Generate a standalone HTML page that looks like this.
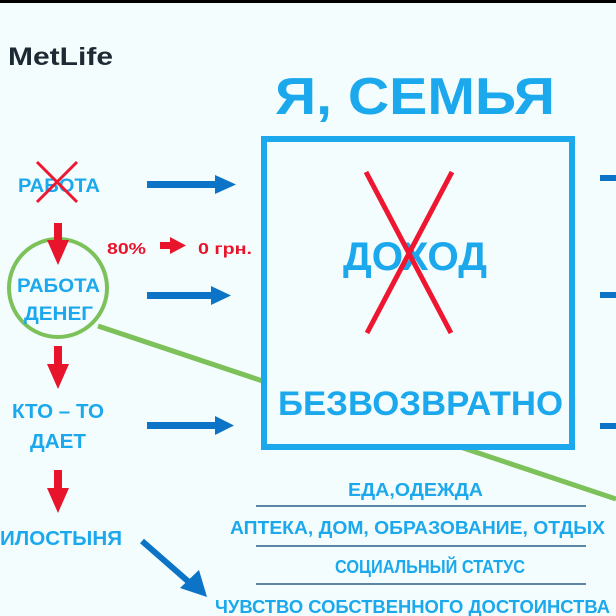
<!DOCTYPE html>
<html><head><meta charset="utf-8"><style>
html,body{margin:0;padding:0;background:#f4fdfd;}
svg{display:block;}
text{font-family:"Liberation Sans","DejaVu Sans",sans-serif;font-weight:bold;}
</style></head><body>
<svg width="616" height="616" viewBox="0 0 616 616" xmlns="http://www.w3.org/2000/svg">
<rect width="616" height="616" fill="#f4fdfd"/>
<rect width="616" height="3" fill="#000"/>
<text x="8" y="65" font-size="25" fill="#1e2a33" textLength="105" lengthAdjust="spacingAndGlyphs">MetLife</text>
<text x="275" y="114" font-size="52" fill="#1ba8ec" textLength="280" lengthAdjust="spacingAndGlyphs">Я, СЕМЬЯ</text>
<line x1="98" y1="326" x2="616" y2="499" stroke="#7cc15a" stroke-width="5"/>
<rect x="264" y="139" width="308" height="308" fill="#f4fdfd" stroke="#1ba8ec" stroke-width="6"/>
<text x="343" y="270" font-size="40" fill="#1ba8ec" textLength="144" lengthAdjust="spacingAndGlyphs">ДОХОД</text>
<line x1="366" y1="172" x2="451" y2="333" stroke="#ee1630" stroke-width="5"/>
<line x1="452" y1="172" x2="367" y2="333" stroke="#ee1630" stroke-width="5"/>
<text x="278" y="415" font-size="34" fill="#1ba8ec" textLength="285" lengthAdjust="spacingAndGlyphs">БЕЗВОЗВРАТНО</text>
<circle cx="58" cy="288" r="49" fill="none" stroke="#7cc15a" stroke-width="4"/>
<text x="18" y="192" font-size="19" fill="#1ba8ec" textLength="82" lengthAdjust="spacingAndGlyphs">РАБОТА</text>
<line x1="37" y1="162" x2="77" y2="202" stroke="#ee1630" stroke-width="3"/>
<line x1="77" y1="162" x2="37" y2="202" stroke="#ee1630" stroke-width="3"/>
<text x="17" y="292" font-size="19" fill="#1ba8ec" textLength="83" lengthAdjust="spacingAndGlyphs">РАБОТА</text>
<text x="24" y="320" font-size="19" fill="#1ba8ec" textLength="69" lengthAdjust="spacingAndGlyphs">ДЕНЕГ</text>
<text x="12" y="418" font-size="20" fill="#1ba8ec" textLength="92" lengthAdjust="spacingAndGlyphs">КТО – ТО</text>
<text x="30" y="448" font-size="20" fill="#1ba8ec" textLength="56" lengthAdjust="spacingAndGlyphs">ДАЕТ</text>
<text x="0" y="545" font-size="20" fill="#1ba8ec" textLength="122" lengthAdjust="spacingAndGlyphs">ИЛОСТЫНЯ</text>
<text x="107" y="254" font-size="16" fill="#e8142c" textLength="39" lengthAdjust="spacingAndGlyphs">80%</text>
<text x="198" y="254" font-size="16" fill="#e8142c" textLength="54" lengthAdjust="spacingAndGlyphs">0 грн.</text>
<g fill="#e8142c">
<rect x="160" y="242" width="12" height="7"/><polygon points="170,237 186,245.5 170,254"/>
<rect x="54" y="223" width="8" height="18"/><polygon points="47,240 69,240 58,265"/>
<rect x="54" y="346" width="8" height="20"/><polygon points="47,364 69,364 58,389"/>
<rect x="54" y="470" width="8" height="20"/><polygon points="47,488 69,488 58,513"/>
</g>
<g fill="#0b74c6">
<rect x="147" y="181" width="70" height="7"/><polygon points="215,175 236,184.5 215,194"/>
<rect x="147" y="292" width="66" height="7"/><polygon points="211,286 231,295.5 211,305"/>
<rect x="147" y="422" width="70" height="7"/><polygon points="215,416 234,425.5 215,435"/>
<rect x="600" y="175" width="16" height="6"/>
<rect x="600" y="292" width="16" height="6"/>
<rect x="600" y="423" width="16" height="6"/>
<line x1="142" y1="541" x2="190" y2="583" stroke="#0b74c6" stroke-width="6"/>
<polygon points="180,588 207,597 199,570"/>
</g>
<g stroke="#2a5f88" stroke-width="1.5">
<line x1="256" y1="506" x2="586" y2="506"/>
<line x1="256" y1="546" x2="586" y2="546"/>
<line x1="256" y1="584" x2="586" y2="584"/>
</g>
<g font-size="18" fill="#1ba8ec">
<text x="348" y="496" textLength="135" lengthAdjust="spacingAndGlyphs">ЕДА,ОДЕЖДА</text>
<text x="230" y="534" textLength="375" lengthAdjust="spacingAndGlyphs">АПТЕКА, ДОМ, ОБРАЗОВАНИЕ, ОТДЫХ</text>
<text x="335" y="573" textLength="190" lengthAdjust="spacingAndGlyphs">СОЦИАЛЬНЫЙ СТАТУС</text>
<text x="215" y="613" textLength="395" lengthAdjust="spacingAndGlyphs">ЧУВСТВО СОБСТВЕННОГО ДОСТОИНСТВА</text>
</g>
</svg>
</body></html>
